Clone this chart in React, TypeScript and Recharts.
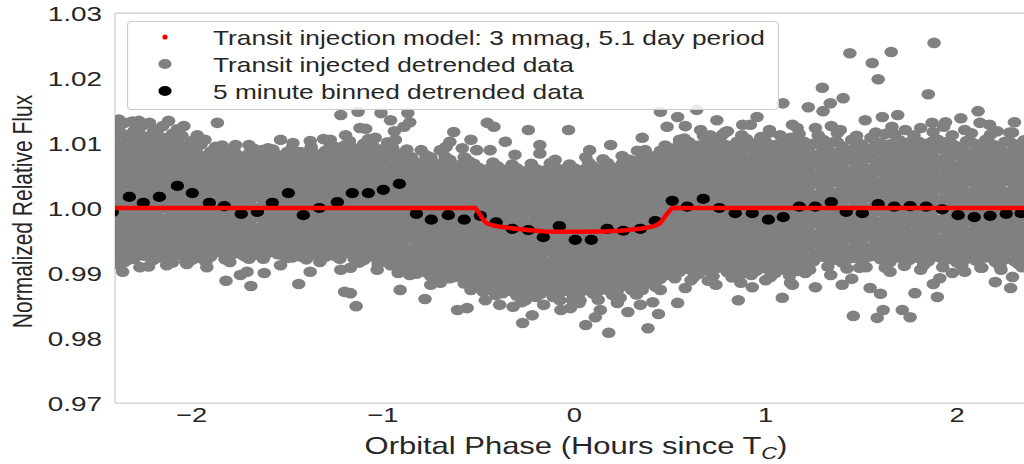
import React from "react";
import { ComposedChart, Scatter, XAxis, YAxis, Legend, ReferenceLine } from "recharts";

// x: hours since Tc ; values: (flux - 1) * 1e4 read column by column
const grayColumns: string[] = [
  "-2.40|124 110 93 79 62 48 31 17 1 -12 -29 -43 -58 -74",
  "-2.375|127 115 96 86 71 55 41 26 10 -5 -20 -35 -50 -66 -88",
  "-2.35|131 113 99 83 69 52 39 21 8 -10 -23 -40 -54 -71 -83",
  "-2.325|112 95 82 66 49 36 18 5 -15 -31 -46 -61 -79",
  "-2.30|119 104 88 74 57 44 27 13 -4 -17 -34 -49 -63 -78",
  "-2.275|134 121 106 91 77 60 46 31 15 -1 -14 -31 -46 -62",
  "-2.25|128 110 97 80 65 51 34 20 3 -12 -27 -43 -57 -73",
  "-2.225|109 92 78 63 47 33 16 0 -15 -30 -45 -60 -75 -90",
  "-2.20|117 101 85 72 54 41 24 10 -7 -20 -38 -51 -68 -80",
  "-2.175|121 104 89 75 58 45 28 14 -3 -16 -33 -47 -63 -71",
  "-2.15|126 108 94 78 63 47 32 14 1 -17 -30 -47 -60 -77",
  "-2.125|106 91 74 60 43 29 12 -2 -18 -33 -49 -64 -79",
  "-2.10|114 99 83 69 52 38 21 7 -10 -24 -41 -54 -71 -84",
  "-2.075|121 101 87 72 57 41 26 11 -5 -21 -36 -51 -66",
  "-2.05|111 93 80 62 50 32 19 1 -12 -30 -43 -60 -73",
  "-2.025|96 83 67 52 36 20 5 -10 -25 -40 -56 -70 -86",
  "-2.00|103 89 72 59 41 28 11 -3 -20 -33 -51 -63 -80",
  "-1.975|106 91 76 60 45 30 14 -1 -16 -31 -46 -62 -77",
  "-1.95|98 80 68 50 37 20 6 -11 -24 -42 -55 -71",
  "-1.925|80 65 50 34 20 5 -10 -25 -40 -56 -70 -83",
  "-1.90|87 74 57 43 27 13 -4 -17 -34 -47 -63 -75",
  "-1.875|94 78 62 47 31 16 1 -14 -29 -45 -60",
  "-1.85|83 65 53 35 22 5 -8 -26 -39 -55 -68",
  "-1.825|71 56 42 26 11 -4 -19 -35 -50 -64 -79",
  "-1.80|89 76 59 46 28 15 -2 -15 -32 -45 -62 -74",
  "-1.775|86 70 55 39 25 9 -6 -21 -37 -52 -67",
  "-1.75|80 63 49 32 19 2 -12 -29 -42 -59 -70",
  "-1.725|75 60 45 29 14 -1 -16 -31 -46 -62 -74",
  "-1.70|84 71 54 40 23 10 -7 -20 -37 -50 -67 -78",
  "-1.675|91 76 62 46 31 16 0 -15 -30 -45 -61 -72",
  "-1.65|78 61 48 30 17 0 -13 -31 -44 -60 -72",
  "-1.625|72 57 42 27 12 -3 -18 -33 -48 -63 -78",
  "-1.60|83 70 52 39 21 8 -9 -22 -39 -52 -69",
  "-1.575|90 74 59 43 28 13 -2 -17 -32 -47 -63",
  "-1.55|81 64 50 33 20 3 -10 -28 -41 -58 -71",
  "-1.525|76 61 46 31 15 0 -15 -30 -46 -61 -72",
  "-1.50|86 73 56 42 25 12 -5 -18 -36 -49 -66 -77",
  "-1.475|92 76 61 45 30 15 0 -16 -31 -46 -62 -76",
  "-1.45|82 65 51 34 21 4 -9 -27 -40 -57 -69",
  "-1.425|73 58 43 28 13 -3 -18 -33 -48 -64 -75",
  "-1.40|85 71 54 41 23 10 -7 -20 -38 -51 -68 -79",
  "-1.375|94 79 63 48 33 17 2 -13 -28 -43 -59 -72",
  "-1.35|83 66 52 35 22 4 -9 -26 -39 -56 -68",
  "-1.325|78 63 48 33 17 2 -13 -29 -44 -59 -71",
  "-1.30|88 75 57 44 27 13 -4 -17 -34 -48 -64 -75",
  "-1.275|98 83 70 54 39 23 8 -7 -22 -38 -53 -68",
  "-1.25|94 77 63 46 33 15 2 -15 -28 -46 -59 -74",
  "-1.225|87 72 57 42 27 11 -4 -19 -34 -50 -65 -78",
  "-1.20|96 83 65 52 35 21 4 -9 -26 -40 -57 -70",
  "-1.175|103 88 73 58 42 27 12 -3 -18 -34 -49 -64",
  "-1.15|92 75 61 44 31 13 0 -17 -31 -48 -61 -78",
  "-1.125|83 68 52 37 22 7 -9 -24 -39 -55 -70 -84",
  "-1.10|99 86 68 55 38 24 7 -8 -23 -39 -52 -69 -80",
  "-1.075|106 91 76 61 45 30 15 0 -15 -31 -46 -61 -74",
  "-1.05|95 78 64 47 34 16 3 -14 -28 -45 -58 -75",
  "-1.025|82 66 51 36 21 5 -10 -25 -40 -56 -71 -86",
  "-1.00|87 74 56 43 26 12 -5 -18 -36 -49 -66 -78",
  "-0.975|101 86 71 55 40 25 9 -6 -21 -36 -52 -67 -82",
  "-0.95|93 76 62 45 32 14 1 -16 -30 -47 -60 -77 -88",
  "-0.925|79 64 48 33 18 3 -13 -28 -43 -58 -74 -89",
  "-0.90|84 71 53 40 23 9 -8 -21 -39 -52 -69 -82",
  "-0.875|90 75 60 44 29 14 -2 -17 -32 -47 -63 -78 -96",
  "-0.85|78 61 47 30 17 -1 -14 -31 -45 -62 -75 -91",
  "-0.825|64 49 34 19 3 -12 -27 -43 -58 -73 -88 -101",
  "-0.80|70 57 39 26 9 -5 -22 -35 -53 -66 -83 -95",
  "-0.775|81 66 50 35 20 5 -11 -26 -41 -56 -72 -87 -99",
  "-0.75|75 58 44 27 14 -4 -17 -34 -48 -65 -78 -94 -105",
  "-0.725|62 47 31 16 1 -14 -30 -45 -60 -75 -91 -104",
  "-0.70|68 55 37 24 7 -7 -24 -37 -55 -68 -85 -97",
  "-0.675|79 64 49 33 18 3 -12 -28 -43 -58 -73 -89 -101",
  "-0.65|74 57 43 26 13 -5 -18 -35 -49 -66 -79 -96 -108",
  "-0.625|61 45 30 15 0 -16 -31 -46 -61 -77 -92 -106",
  "-0.60|66 53 35 22 5 -9 -26 -39 -57 -70 -87 -99",
  "-0.575|78 63 47 32 17 2 -14 -29 -44 -59 -75 -90 -103 -116",
  "-0.55|72 55 41 24 11 -7 -20 -37 -51 -68 -81 -98 -110",
  "-0.525|68 55 39 24 9 -6 -22 -37 -52 -67 -83 -98 -113",
  "-0.50|62 49 31 18 1 -13 -30 -43 -61 -74 -91 -104 -121",
  "-0.475|53 38 22 7 -8 -23 -39 -54 -69 -84 -100 -115 -129",
  "-0.45|60 43 29 12 -1 -19 -32 -49 -63 -80 -93 -110 -123",
  "-0.425|70 56 40 25 10 -5 -21 -36 -51 -66 -82 -97 -112 -126",
  "-0.40|64 51 33 20 3 -11 -28 -41 -59 -72 -89 -102 -119 -131",
  "-0.375|52 36 21 6 -9 -25 -40 -55 -70 -86 -101 -116 -131",
  "-0.35|59 42 28 11 -2 -20 -33 -50 -64 -81 -94 -111 -124",
  "-0.325|67 53 37 22 7 -8 -24 -39 -54 -69 -85 -100 -115 -128",
  "-0.30|61 48 30 17 0 -14 -31 -44 -62 -75 -92 -105 -122 -135",
  "-0.275|50 35 20 4 -11 -26 -41 -57 -72 -87 -102 -118 -133 -145",
  "-0.25|57 40 26 9 -4 -22 -35 -52 -66 -83 -96 -113 -126",
  "-0.225|68 54 38 23 8 -7 -23 -38 -53 -68 -84 -99 -114 -129",
  "-0.20|60 47 29 16 -1 -15 -32 -45 -63 -76 -93 -106 -123 -137",
  "-0.175|49 34 18 3 -12 -27 -43 -58 -73 -88 -104 -119 -132",
  "-0.15|58 41 27 10 -3 -21 -34 -51 -65 -82 -95 -112 -125",
  "-0.125|69 55 39 24 9 -6 -22 -37 -52 -67 -83 -98 -113 -127",
  "-0.10|63 50 32 19 2 -12 -29 -42 -60 -73 -90 -103 -120 -133",
  "-0.075|52 37 21 6 -9 -25 -40 -55 -70 -86 -101 -116 -130 -142",
  "-0.05|60 43 29 12 -1 -19 -32 -49 -63 -80 -93 -110 -123",
  "-0.025|67 53 37 22 7 -8 -24 -39 -54 -69 -85 -100 -115 -129",
  "0.00|61 48 30 17 0 -14 -31 -44 -62 -75 -92 -105 -122 -136",
  "0.025|50 35 20 4 -11 -26 -41 -57 -72 -87 -102 -118 -131 -146",
  "0.05|59 42 28 11 -2 -20 -33 -50 -64 -81 -94 -111 -124",
  "0.075|70 56 40 25 10 -5 -21 -36 -51 -66 -82 -97 -112 -127",
  "0.10|64 51 33 20 3 -11 -28 -41 -59 -72 -89 -102 -119 -132",
  "0.125|53 38 22 7 -8 -23 -39 -54 -69 -84 -100 -115 -128 -141",
  "0.15|61 44 30 13 0 -18 -31 -48 -62 -79 -92 -109 -122",
  "0.175|69 55 39 24 9 -6 -22 -37 -52 -67 -83 -98 -113 -126",
  "0.20|62 49 31 18 1 -13 -30 -43 -61 -74 -91 -104 -121 -134",
  "0.225|55 40 24 9 -6 -21 -37 -52 -67 -82 -98 -113 -127 -140",
  "0.25|68 51 37 20 7 -11 -24 -41 -55 -72 -85 -102 -115",
  "0.275|74 60 44 29 14 -1 -17 -32 -47 -62 -78 -93 -108 -120",
  "0.30|70 57 39 26 9 -5 -22 -35 -53 -66 -83 -96 -113 -126",
  "0.325|63 48 32 17 2 -13 -29 -44 -59 -74 -90 -105 -119 -133",
  "0.35|76 59 45 28 15 -3 -16 -33 -47 -64 -77 -94 -107",
  "0.375|83 69 53 38 23 8 -8 -23 -38 -53 -69 -84 -99 -112",
  "0.40|80 67 49 36 19 5 -12 -25 -43 -56 -73 -86 -103 -116",
  "0.425|73 58 42 27 12 -3 -19 -34 -49 -64 -80 -95 -108 -121",
  "0.45|88 71 57 40 27 9 -4 -21 -35 -52 -65 -82 -95 -109",
  "0.475|96 82 66 51 36 21 5 -10 -25 -40 -56 -71 -86 -99",
  "0.50|92 79 61 48 31 17 0 -13 -31 -44 -61 -74 -91 -103",
  "0.525|86 71 55 40 25 10 -6 -21 -36 -51 -67 -82 -97 -108",
  "0.55|99 82 68 51 38 20 7 -10 -24 -41 -54 -71 -84 -98",
  "0.575|107 93 77 62 47 32 16 1 -14 -29 -45 -60 -75 -90",
  "0.60|101 88 70 57 40 26 9 -4 -22 -35 -52 -65 -82 -94",
  "0.625|90 75 59 44 29 14 -2 -17 -32 -47 -63 -78 -93 -106",
  "0.65|96 79 65 48 35 17 4 -13 -27 -44 -57 -74 -87 -101",
  "0.675|111 97 81 66 51 36 20 5 -10 -25 -41 -56 -71 -86",
  "0.70|99 86 68 55 38 24 7 -6 -24 -37 -54 -67 -84 -96",
  "0.725|92 77 61 46 31 16 0 -15 -30 -45 -61 -76 -91 -105",
  "0.75|106 89 75 58 45 27 14 -3 -17 -34 -47 -64 -77 -92",
  "0.775|113 99 83 68 53 38 22 7 -8 -23 -39 -54 -69 -84",
  "0.80|96 83 65 52 35 21 4 -9 -27 -40 -57 -70 -87 -99",
  "0.825|89 74 58 43 28 13 -3 -18 -33 -48 -64 -79 -94 -107",
  "0.85|102 85 71 54 41 23 10 -7 -21 -38 -51 -68 -81 -95",
  "0.875|112 98 82 67 52 37 21 6 -9 -24 -40 -55 -70 -86 -101",
  "0.90|106 93 75 62 45 31 14 1 -17 -30 -47 -60 -77 -90",
  "0.925|93 78 62 47 32 17 1 -14 -29 -44 -60 -75 -90 -103",
  "0.95|100 83 69 52 39 21 8 -9 -23 -40 -53 -70 -83 -97",
  "0.975|109 95 79 64 49 34 18 3 -12 -27 -43 -58 -73 -88",
  "1.00|102 89 71 58 41 27 10 -3 -21 -34 -51 -64 -81 -93",
  "1.025|90 75 59 44 29 14 -2 -17 -32 -47 -63 -78 -93 -106",
  "1.05|97 80 66 49 36 18 5 -12 -26 -43 -56 -73 -86 -100",
  "1.075|112 98 82 67 52 37 21 6 -9 -24 -40 -55 -70 -85",
  "1.10|100 87 69 56 39 25 8 -5 -23 -36 -53 -66 -83 -95",
  "1.125|91 76 60 45 30 15 -1 -16 -31 -46 -62 -77 -92 -104",
  "1.15|106 89 75 58 45 27 14 -3 -17 -34 -47 -64 -77 -91",
  "1.175|114 100 84 69 54 39 23 8 -7 -22 -38 -53 -68 -83 -97",
  "1.20|102 89 71 58 41 27 10 -3 -21 -34 -51 -64 -78",
  "1.225|93 78 62 47 32 17 1 -14 -29 -44 -60 -75 -88",
  "1.25|99 82 68 51 38 20 7 -10 -24 -41 -54 -71 -82",
  "1.275|112 98 82 67 52 37 21 6 -9 -24 -40 -55 -70",
  "1.30|105 92 74 61 44 30 13 0 -18 -31 -48 -61 -75",
  "1.325|91 76 60 45 30 15 -1 -16 -31 -46 -62 -77 -90",
  "1.35|101 84 70 53 40 22 9 -8 -22 -39 -52 -69 -80",
  "1.375|115 101 85 70 55 40 24 9 -6 -21 -37 -52 -67",
  "1.40|95 82 64 51 34 20 3 -10 -28 -41 -58 -71 -84",
  "1.425|89 74 58 43 28 13 -3 -18 -33 -48 -64 -79 -93",
  "1.45|105 88 74 57 44 26 13 -4 -18 -35 -48 -65 -77",
  "1.475|111 97 81 66 51 36 20 5 -10 -25 -41 -56 -71",
  "1.50|98 85 67 54 37 23 6 -7 -25 -38 -55 -68 -81",
  "1.525|92 77 61 46 31 16 0 -15 -30 -45 -61 -76 -91",
  "1.55|108 91 77 60 47 29 16 -1 -15 -32 -45 -62 -74",
  "1.575|116 102 86 71 56 41 25 10 -5 -20 -36 -51 -66",
  "1.60|100 87 69 56 39 25 8 -5 -23 -36 -53 -66 -79",
  "1.625|90 75 59 44 29 14 -2 -17 -32 -47 -63 -78 -92",
  "1.65|98 81 67 50 37 19 6 -11 -25 -42 -55 -72 -83",
  "1.675|113 99 83 68 53 38 22 7 -8 -23 -39 -54 -69",
  "1.70|104 91 73 60 43 29 12 -1 -19 -32 -49 -62 -76",
  "1.725|92 77 61 46 31 16 0 -15 -30 -45 -61 -76 -89",
  "1.75|101 84 70 53 40 22 9 -8 -22 -39 -52 -69 -80",
  "1.775|112 98 82 67 52 37 21 6 -9 -24 -40 -55 -70",
  "1.80|102 89 71 58 41 27 10 -3 -21 -34 -51 -64 -77",
  "1.825|94 79 63 48 33 18 2 -13 -28 -43 -59 -74 -88",
  "1.85|99 82 68 51 38 20 7 -10 -24 -41 -54 -71 -82",
  "1.875|117 103 87 72 57 42 26 11 -4 -19 -35 -50 -65",
  "1.90|105 92 74 61 44 30 13 0 -18 -31 -48 -61 -75",
  "1.925|90 75 59 44 29 14 -2 -17 -32 -47 -63 -78 -91",
  "1.95|102 85 71 54 41 23 10 -7 -21 -38 -51 -68 -79",
  "1.975|112 98 82 67 52 37 21 6 -9 -24 -40 -55 -70",
  "2.00|95 82 64 51 34 20 3 -10 -28 -41 -58 -71 -84",
  "2.025|93 78 62 47 32 17 1 -14 -29 -44 -60 -75 -89",
  "2.05|103 86 72 55 42 24 11 -6 -20 -37 -50 -67 -78",
  "2.075|115 101 85 70 55 40 24 9 -6 -21 -37 -52 -67",
  "2.10|98 85 67 54 37 23 6 -7 -25 -38 -55 -68 -81",
  "2.125|91 76 60 45 30 15 -1 -16 -31 -46 -62 -77 -92",
  "2.15|105 88 74 57 44 26 13 -4 -18 -35 -48 -65 -76",
  "2.175|113 99 83 68 53 38 22 7 -8 -23 -39 -54 -69",
  "2.20|96 83 65 52 35 21 4 -9 -27 -40 -57 -70 -83",
  "2.225|90 75 59 44 29 14 -2 -17 -32 -47 -63 -78 -90",
  "2.25|102 85 71 54 41 23 10 -7 -21 -38 -51 -68 -79",
  "2.275|116 102 86 71 56 41 25 10 -5 -20 -36 -51 -66",
  "2.30|98 85 67 54 37 23 6 -7 -25 -38 -55 -68 -82",
  "2.325|94 79 63 48 33 18 2 -13 -28 -43 -59 -74 -87",
  "2.35|104 87 73 56 43 25 12 -5 -19 -36 -49 -66 -78",
];

// isolated and fringe points "x,(flux-1)*1e4"
const grayOutliers: string[] = [
  "-2.38,136", "-2.31,133", "-2.22,131", "-2.12,134", "-2.04,126", "-1.97,112", "-1.865,131", "-1.84,96",
  "-1.70,97", "-1.60,92", "-1.47,100", "-1.38,103", "-1.31,106", "-1.22,143", "-1.13,148", "-1.09,122",
  "-1.04,108", "-1.01,146", "-0.99,92", "-0.96,135", "-0.94,118", "-0.89,125", "-0.87,146", "-0.86,132",
  "-0.70,89", "-0.65,102", "-0.63,117", "-0.585,92", "-0.54,105", "-0.455,131", "-0.42,125", "-0.36,102",
  "-0.24,120", "-0.18,84", "-0.03,120", "0.06,78", "0.15,75", "0.25,80", "0.33,88", "0.355,108",
  "0.45,148", "0.485,125", "0.54,140", "0.58,126", "0.64,151", "0.71,112", "0.745,135", "0.80,118",
  "0.88,128", "0.955,140", "1.02,116", "1.09,161", "1.14,128", "1.165,123", "1.223,155", "1.296,185",
  "1.30,149", "1.338,161", "1.343,126", "1.405,169", "1.44,238", "1.557,223", "1.588,198", "1.61,140",
  "1.656,240", "1.66,125", "1.69,143", "1.85,175", "1.87,131", "1.88,254", "1.93,125", "2.02,138",
  "2.11,149", "2.12,131", "2.21,118", "2.29,116",
  "-2.36,-98", "-2.27,-91", "-2.13,-88", "-1.92,-91", "-1.82,-112", "-1.71,-98", "-1.69,-120", "-1.62,-100",
  "-1.44,-117", "-1.38,-98", "-1.22,-95", "-1.20,-129", "-1.17,-131", "-1.14,-151", "-1.03,-95", "-0.92,-100",
  "-0.78,-140", "-0.70,-115", "-0.61,-157", "-0.56,-154", "-0.455,-118", "-0.41,-134", "-0.35,-120", "-0.32,-152",
  "-0.27,-177", "-0.22,-165", "-0.16,-149", "-0.11,-137", "-0.02,-154", "-0.01,-142", "0.06,-180", "0.11,-168",
  "0.18,-192", "0.225,-146", "0.28,-160", "0.355,-126", "0.385,-185", "0.41,-145", "0.44,-163", "0.54,-146",
  "0.58,-123", "0.70,-112", "0.857,-142", "0.93,-122", "1.087,-138", "1.14,-118", "1.207,-100", "1.26,-122",
  "1.40,-118", "1.45,-109", "1.458,-166", "1.546,-123", "1.583,-169", "1.60,-132", "1.614,-157", "1.714,-157",
  "1.755,-168", "1.78,-131", "1.876,-117", "1.897,-137", "1.975,-100", "2.13,-92", "2.20,-114", "2.28,-123",
  "2.29,-106", "2.34,-91",
  "-1.93,105", "-1.77,97", "-1.63,89", "-1.535,105", "-1.43,86", "-1.275,105",
  "-2.03,-83", "-1.80,-83", "-1.535,-88", "-1.33,-83", "-1.745,-103",
  "-1.195,112", "-1.12,123", "-1.065,97", "-0.935,105", "-0.80,89", "-0.75,78", "-0.67,94", "-0.57,77", "-0.51,89",
  "-1.17,-92", "-0.96,-88", "-0.86,-103", "-0.75,-118", "-0.67,-108", "-0.54,-126", "-0.91,-126",
  "-0.44,89", "-0.31,82", "-0.18,97", "-0.10,74", "0.08,89", "0.19,97", "0.29,74", "0.37,89",
  "-0.465,-142", "-0.39,-149", "-0.255,-142", "-0.07,-157", "0.03,-142", "0.136,-157", "0.24,-138", "0.345,-149", "0.45,-126",
  "0.55,105", "0.66,120", "0.79,117", "0.92,128", "1.02,120", "1.13,108",
  "0.61,-111", "0.74,-118", "0.87,-115", "1.0,-111", "1.13,-115",
  "1.26,123", "1.39,120", "1.52,135", "1.73,120", "1.81,123", "1.94,132", "2.04,120", "2.17,128", "2.30,132", "1.47,108", "1.625,114",
  "1.23,-95", "1.34,-103", "1.49,-92", "1.65,-98", "1.81,-95", "1.91,-108", "2.04,-98", "2.23,-95",
];

const binX: number[] = [
  -2.414, -2.325, -2.252, -2.168, -2.074, -1.996, -1.907, -1.829, -1.74, -1.656,
  -1.578, -1.494, -1.416, -1.332, -1.238, -1.16, -1.076, -0.998, -0.914, -0.825,
  -0.747, -0.658, -0.575, -0.491, -0.408, -0.324, -0.24, -0.162, -0.078, 0.005,
  0.089, 0.172, 0.256, 0.345, 0.423, 0.512, 0.59, 0.674, 0.758, 0.841,
  0.93, 1.014, 1.092, 1.176, 1.259, 1.343, 1.421, 1.505, 1.588, 1.672,
  1.755, 1.839, 1.923, 2.006, 2.09, 2.173, 2.257, 2.335,
];
const binY: number[] = [
  0.9994, 1.0017, 1.0008, 1.0017, 1.0034, 1.0023, 1.0008, 1.0003, 0.9991, 0.9994,
  1.0008, 1.0023, 0.9989, 1.0, 1.0009, 1.0023, 1.0023, 1.0028, 1.0037, 0.9991,
  0.9982, 0.9989, 0.9982, 0.9988, 0.9978, 0.9968, 0.9966, 0.9955, 0.9972, 0.9951,
  0.9951, 0.9968, 0.9965, 0.9968, 0.998, 1.0011, 1.0002, 1.0014, 1.0, 0.9992,
  0.9992, 0.9982, 0.9986, 1.0002, 1.0002, 1.0009, 0.9994, 0.9992, 1.0006, 1.0002,
  1.0003, 1.0002, 0.9998, 0.9989, 0.9986, 0.9988, 0.9991, 0.9992,
];

const modelX: number[] = [-2.45, -0.517, -0.5, -0.485, -0.47, -0.455, -0.42, -0.386, -0.3, -0.245, -0.15, -0.05, 0.05, 0.15, 0.24, 0.345, 0.4, 0.423, 0.445, 0.46, 0.475, 0.49, 0.512, 2.45];
const modelY: number[] = [1.0, 1.0, 0.9993, 0.9986, 0.998, 0.9976, 0.9973, 0.9971, 0.9968, 0.9966, 0.9964, 0.99635, 0.99635, 0.9964, 0.9965, 0.9968, 0.9971, 0.9973, 0.9976, 0.9981, 0.9987, 0.9993, 1.0, 1.0];

const xTicks: number[] = [-2, -1, 0, 1, 2];
const yTicks: number[] = [0.97, 0.98, 0.99, 1.0, 1.01, 1.02, 1.03];

const legendLabels: string[] = [
  "Transit injection model: 3 mmag, 5.1 day period",
  "Transit injected detrended data",
  "5 minute binned detrended data",
];

const grayData = [
  ...grayColumns.flatMap((s) => {
    const [xs, ys] = s.split("|");
    const x = parseFloat(xs);
    return ys.split(" ").map((u) => ({ x, y: 1 + parseInt(u, 10) / 10000 }));
  }),
  ...grayOutliers.map((s) => {
    const [xs, us] = s.split(",");
    return { x: parseFloat(xs), y: 1 + parseFloat(us) / 10000 };
  }),
];
const binData = binX.map((x, i) => ({ x, y: binY[i] }));
const modelData = modelX.map((x, i) => ({ x, y: modelY[i] }));

const FONT = "'Liberation Sans', Arial, Helvetica, sans-serif";
const TXT = "#262626";
const FRAME = "#cccccc";

const XTick = (p: any) => {
  const v = p.payload.value;
  const label = v < 0 ? "\u2212" + Math.abs(v) : String(v);
  return (
    <text transform={`translate(${p.x},${p.y + 13}) scale(1.3,1)`} textAnchor="middle" fontSize={21} fontFamily={FONT} fill={TXT}>
      {label}
    </text>
  );
};

const YTick = (p: any) => {
  const v = p.payload.value as number;
  return (
    <text transform={`translate(${p.x - 5},${p.y + 7.5}) scale(1.33,1)`} textAnchor="end" fontSize={21} fontFamily={FONT} fill={TXT}>
      {v.toFixed(2)}
    </text>
  );
};

const grayShape = (p: any) => <ellipse cx={p.cx} cy={p.cy} rx={6.8} ry={5.3} fill="#808080" />;
const blackShape = (p: any) => <ellipse cx={p.cx} cy={p.cy} rx={6.7} ry={5.1} fill="#000000" />;
const noShape = () => <g />;

const renderLegend = () => (
  <svg width={652} height={89} style={{ display: "block" }}>
    <rect x={0.5} y={0.5} width={651} height={88} rx={4} ry={4} fill="#ffffff" fillOpacity={0.85} stroke={FRAME} strokeWidth={1.2} />
    <circle cx={38} cy={16} r={2.6} fill="#ff0000" />
    <ellipse cx={38} cy={43} rx={6.6} ry={5} fill="#808080" />
    <ellipse cx={38} cy={70} rx={6.6} ry={5} fill="#000000" />
    {legendLabels.map((t, i) => (
      <text key={t} transform={`translate(86,${23.5 + i * 27}) scale(1.25,1)`} fontSize={21} fontFamily={FONT} fill={TXT}>
        {t}
      </text>
    ))}
  </svg>
);

export default function App() {
  return (
    <div style={{ position: "absolute", left: 0, top: 0, width: 1024, height: 464, background: "#ffffff", overflow: "hidden" }}>
      <ComposedChart width={1024} height={464} margin={{ top: 13, right: 0, bottom: 0, left: 0 }}>
        <XAxis
          type="number"
          dataKey="x"
          domain={[-2.4, 2.35]}
          ticks={xTicks}
          interval={0}
          allowDataOverflow
          tickLine={false}
          tickSize={6}
          tickMargin={0}
          axisLine={{ stroke: FRAME, strokeWidth: 1.25 }}
          height={61}
          tick={XTick}
        />
        <YAxis
          type="number"
          dataKey="y"
          domain={[0.97, 1.03]}
          ticks={yTicks}
          interval={0}
          allowDataOverflow
          tickLine={false}
          axisLine={{ stroke: FRAME, strokeWidth: 1.25 }}
          width={115}
          tick={YTick}
        />
        <ReferenceLine y={1.03} stroke={FRAME} strokeWidth={1.25} />
        <Scatter data={grayData} shape={grayShape} isAnimationActive={false} />
        <Scatter data={binData} shape={blackShape} isAnimationActive={false} />
        <Scatter
          data={modelData}
          shape={noShape}
          line={{ stroke: "#ff0000", strokeWidth: 4.5 }}
          lineType="joint"
          isAnimationActive={false}
        />
        <Legend
          content={renderLegend}
          layout="horizontal"
          verticalAlign="middle"
          align="center"
          wrapperStyle={{ left: 127, top: 21, width: 652, height: 89 }}
        />
      </ComposedChart>
      <svg width={1024} height={464} style={{ position: "absolute", left: 0, top: 0, pointerEvents: "none" }}>
        <text
          transform="translate(22,211.5) rotate(-90) scale(1,1.3)"
          textAnchor="middle"
          dominantBaseline="central"
          fontSize={21}
          fontFamily={FONT}
          fill={TXT}
        >
          Normalized Relative Flux
        </text>
        <text transform="translate(576,454) scale(1.29,1)" textAnchor="middle" fontSize={24} fontFamily={FONT} fill={TXT}>
          Orbital Phase (Hours since T
          <tspan fontSize={17} fontStyle="italic" dy={5}>C</tspan>
          <tspan dy={-5}>)</tspan>
        </text>
      </svg>
    </div>
  );
}
